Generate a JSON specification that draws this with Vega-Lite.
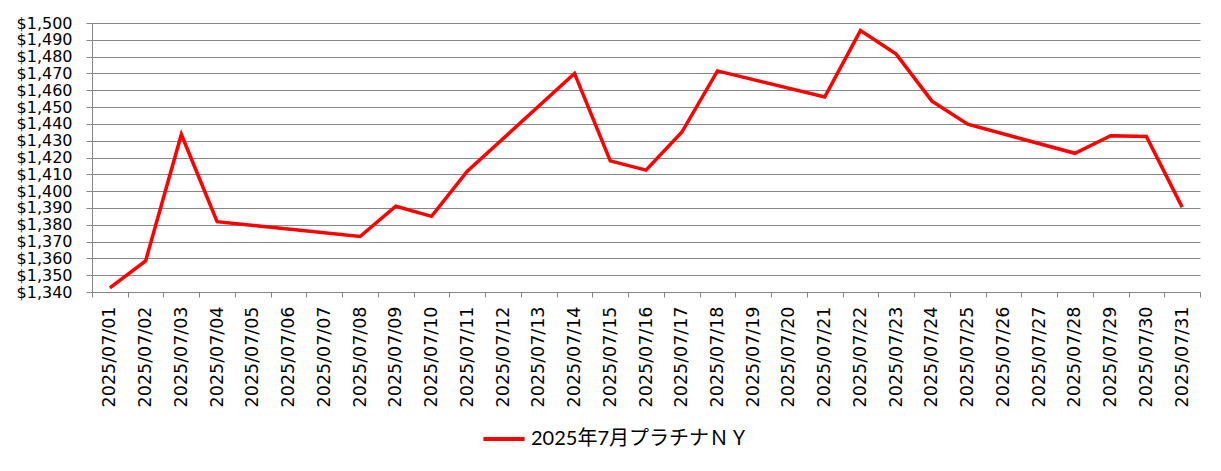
{
  "$schema": "https://vega.github.io/schema/vega-lite/v6.json",
  "width": 1108,
  "height": 269,
  "autosize": {"type": "none"},
  "padding": {"left": 92, "top": 23, "right": 21, "bottom": 179},
  "background": "white",
  "data": {
    "values": [
      {"date": "2025/07/01", "price": 1342.5, "series": "2025年7月プラチナＮＹ"},
      {"date": "2025/07/02", "price": 1358.5, "series": "2025年7月プラチナＮＹ"},
      {"date": "2025/07/03", "price": 1433.7, "series": "2025年7月プラチナＮＹ"},
      {"date": "2025/07/04", "price": 1381.8, "series": "2025年7月プラチナＮＹ"},
      {"date": "2025/07/08", "price": 1373.0, "series": "2025年7月プラチナＮＹ"},
      {"date": "2025/07/09", "price": 1391.0, "series": "2025年7月プラチナＮＹ"},
      {"date": "2025/07/10", "price": 1385.0, "series": "2025年7月プラチナＮＹ"},
      {"date": "2025/07/11", "price": 1411.8, "series": "2025年7月プラチナＮＹ"},
      {"date": "2025/07/14", "price": 1470.0, "series": "2025年7月プラチナＮＹ"},
      {"date": "2025/07/15", "price": 1418.0, "series": "2025年7月プラチナＮＹ"},
      {"date": "2025/07/16", "price": 1412.5, "series": "2025年7月プラチナＮＹ"},
      {"date": "2025/07/17", "price": 1435.0, "series": "2025年7月プラチナＮＹ"},
      {"date": "2025/07/18", "price": 1471.5, "series": "2025年7月プラチナＮＹ"},
      {"date": "2025/07/21", "price": 1456.0, "series": "2025年7月プラチナＮＹ"},
      {"date": "2025/07/22", "price": 1495.5, "series": "2025年7月プラチナＮＹ"},
      {"date": "2025/07/23", "price": 1481.5, "series": "2025年7月プラチナＮＹ"},
      {"date": "2025/07/24", "price": 1453.5, "series": "2025年7月プラチナＮＹ"},
      {"date": "2025/07/25", "price": 1439.8, "series": "2025年7月プラチナＮＹ"},
      {"date": "2025/07/28", "price": 1422.5, "series": "2025年7月プラチナＮＹ"},
      {"date": "2025/07/29", "price": 1433.0, "series": "2025年7月プラチナＮＹ"},
      {"date": "2025/07/30", "price": 1432.5, "series": "2025年7月プラチナＮＹ"},
      {"date": "2025/07/31", "price": 1390.5, "series": "2025年7月プラチナＮＹ"}
    ]
  },
  "mark": {"type": "line", "strokeWidth": 3.5, "strokeJoin": "miter"},
  "encoding": {
    "x": {
      "field": "date",
      "type": "ordinal",
      "title": null,
      "scale": {
        "type": "band",
        "paddingInner": 0,
        "paddingOuter": 0,
        "domain": [
          "2025/07/01", "2025/07/02", "2025/07/03", "2025/07/04", "2025/07/05",
          "2025/07/06", "2025/07/07", "2025/07/08", "2025/07/09", "2025/07/10",
          "2025/07/11", "2025/07/12", "2025/07/13", "2025/07/14", "2025/07/15",
          "2025/07/16", "2025/07/17", "2025/07/18", "2025/07/19", "2025/07/20",
          "2025/07/21", "2025/07/22", "2025/07/23", "2025/07/24", "2025/07/25",
          "2025/07/26", "2025/07/27", "2025/07/28", "2025/07/29", "2025/07/30",
          "2025/07/31"
        ]
      },
      "axis": {
        "labelAngle": -90,
        "labelAlign": "right",
        "labelBaseline": "middle",
        "labelPadding": 9,
        "labelOverlap": false,
        "tickBand": "extent",
        "tickSize": 5,
        "tickColor": "#868686",
        "domainColor": "#868686",
        "labelFontSize": 17.5,
        "labelColor": "#000000",
        "labelFont": "DejaVu Sans",
        "grid": false
      }
    },
    "y": {
      "field": "price",
      "type": "quantitative",
      "title": null,
      "scale": {"domain": [1340, 1500], "nice": false, "zero": false},
      "axis": {
        "values": [1340, 1350, 1360, 1370, 1380, 1390, 1400, 1410, 1420, 1430, 1440, 1450, 1460, 1470, 1480, 1490, 1500],
        "format": "$,.0f",
        "labelFontSize": 16,
        "labelColor": "#000000",
        "labelFont": "DejaVu Sans",
        "labelPadding": 14,
        "labelOverlap": false,
        "tickSize": 6,
        "tickColor": "#868686",
        "domainColor": "#868686",
        "gridColor": "#868686",
        "gridWidth": 1,
        "labelBaseline": "middle"
      }
    },
    "color": {
      "field": "series",
      "type": "nominal",
      "scale": {"range": ["#ff0000"]},
      "legend": {
        "title": null,
        "orient": "none",
        "legendX": 389,
        "legendY": 393,
        "symbolType": "stroke",
        "symbolStrokeWidth": 4,
        "symbolSize": 1700,
        "labelFontSize": 20,
        "labelFont": "Lato, Noto Sans CJK JP",
        "labelColor": "#000000",
        "labelLimit": 400,
        "labelOffset": 4
      }
    }
  },
  "config": {
    "view": {"stroke": null}
  }
}
